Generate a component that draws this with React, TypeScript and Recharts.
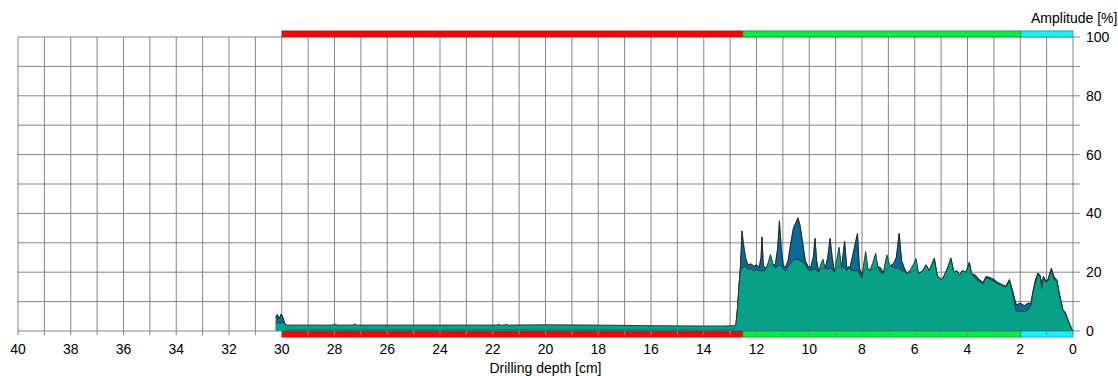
import React from "react";
import {
  ComposedChart,
  Area,
  Line,
  XAxis,
  YAxis,
  CartesianGrid,
  ReferenceArea,
} from "recharts";

// drilling depth [cm], shared by both series
const depth = [
  30.23, 30.17, 30.1, 30.02, 29.95, 29.88, 29.8, 28.05, 28.0, 27.9, 27.3, 27.25, 27.15,
  24.0, 21.85, 21.8, 21.7, 21.55, 21.5, 21.4, 20.0, 18.0, 16.0, 14.0, 13.2, 12.85,
  12.78, 12.72, 12.67, 12.61, 12.55, 12.5, 12.42, 12.33, 12.2, 12.1, 12.0, 11.9, 11.83,
  11.79, 11.74, 11.65, 11.55, 11.47, 11.38, 11.28, 11.2, 11.13, 11.06, 10.98, 10.9, 10.8,
  10.7, 10.6, 10.5, 10.43, 10.35, 10.25, 10.15, 10.05, 9.95, 9.85, 9.78, 9.72, 9.65, 9.55,
  9.48, 9.4, 9.3, 9.21, 9.13, 9.05, 8.96, 8.87, 8.78, 8.66, 8.58, 8.5, 8.45, 8.37, 8.25,
  8.17, 8.1, 8.0, 7.95, 7.86, 7.78, 7.7, 7.6, 7.48, 7.4, 7.3, 7.2, 7.06, 6.95, 6.8, 6.7,
  6.59, 6.5, 6.4, 6.3, 6.15, 6.0, 5.95, 5.85, 5.7, 5.57, 5.45, 5.26, 5.15, 5.0, 4.9, 4.75,
  4.63, 4.52, 4.4, 4.3, 4.2, 4.05, 3.93, 3.85, 3.7, 3.55, 3.41, 3.3, 3.15, 3.0, 2.85, 2.7,
  2.55, 2.41, 2.3, 2.2, 2.15, 2.0, 1.85, 1.7, 1.6, 1.52, 1.42, 1.33, 1.25, 1.18, 1.12, 1.03,
  0.95, 0.82, 0.72, 0.61, 0.52, 0.38, 0.3, 0.15, 0.06, 0,
];

// amplitude [%], blue (rear) series
const blueAmp = [
  4.5, 5.6, 4.2, 5.8, 4.5, 2.5, 0.5, 0.5, 0.5, 0.5, 0.5, 0.5, 0.5,
  0.5, 0.5, 0.5, 0.5, 0.5, 0.5, 0.5, 0.5, 0.5, 0.5, 0.5, 0.5, 0.5,
  2.0, 7.5, 14.5, 22, 34, 30, 25, 22.5, 22.8, 22, 22.5, 21.6, 25,
  32, 22, 21.5, 22, 22.5, 22, 23, 28, 37.5, 28, 22, 21.8, 24,
  30, 35, 37, 38.5, 36, 30, 24, 22, 21.5, 25, 31.5, 24, 20.5, 21,
  21.5, 21, 25, 31.5, 25, 20.5, 21, 22, 21, 30.5, 22, 21, 22, 25, 30,
  33.2, 21.5, 19, 20, 21, 21, 20.5, 21, 21, 22, 21.5, 20, 21, 22, 23, 25,
  33.2, 24, 21.5, 19.5, 20, 20.5, 21, 19.5, 20.5, 22.5, 20.5, 24.7, 19, 17.3, 18.5, 21.5,
  24.7, 20, 20.5, 19, 20.5, 20, 23.3, 19.5, 19, 17.5, 16.5, 18.5, 18.2, 17.5, 16.5, 15.8,
  15.2, 17.5, 14, 10.5, 8.8, 9.5, 8.6, 9.5, 9.2, 13.4, 17.5, 19.7, 19, 16, 18.5, 17,
  17.5, 21.3, 18.5, 17.3, 12.9, 7.1, 6.5, 2.8, 0.9, 0,
];

// amplitude [%], green (front) series
const greenAmp = [
  2.8, 2.8, 2.8, 2.8, 2.8, 2.6, 2.0, 2.0, 2.4, 2.0, 2.0, 2.4, 2.0,
  2.0, 2.0, 2.3, 2.0, 2.0, 2.3, 2.0, 2.1, 2.0, 1.8, 1.7, 1.7, 1.8,
  2.5, 8, 15, 20.7, 21.5, 21.8, 22, 21, 21.3, 20.3, 21, 20.5, 20.5,
  20.5, 20.5, 21, 23.5, 26, 23, 21.5, 22, 22.5, 22, 21, 20.5, 22,
  23, 24, 24.5, 24.3, 24, 23.5, 22.5, 21, 20.5, 21, 21, 20.8, 20, 23,
  24.4, 21.5, 21, 21.5, 21, 20, 24, 28.5, 22, 21.5, 20.5, 22, 21, 20.5, 20.5,
  20.5, 19.5, 18, 22, 27, 21.5, 20.5, 23, 26.4, 22, 20, 19.5, 25.9, 22.5, 21.5, 21.5,
  21.5, 20.5, 20.5, 19.5, 21, 23.5, 24.6, 19.5, 20.5, 22.5, 20.5, 24.7, 19, 17.3, 18.5, 21.5,
  24.7, 20, 20.5, 19, 20.5, 20, 23.3, 19.5, 18, 16.8, 16, 18.1, 17.5, 17, 16, 15.6,
  14.8, 17, 13, 8.5, 6.6, 6.8, 6.5, 7.2, 8.5, 13, 16.5, 19.5, 18.5, 14.5, 18.5, 16.5,
  17, 21, 17.5, 17, 12.5, 7, 6, 2.8, 0.9, 0,
];

// section markers along the depth axis [cm]
const bandEdges = [30, 12.52, 1.98, 0];
const bandColors = ["#ff0000", "#00ee40", "#16f0ff"];

const xTicks = [
  0, 1, 2, 3, 4, 5, 6, 7, 8, 9, 10, 11, 12, 13, 14, 15, 16, 17, 18, 19, 20,
  21, 22, 23, 24, 25, 26, 27, 28, 29, 30, 31, 32, 33, 34, 35, 36, 37, 38, 39, 40,
];
const yTicks = [0, 10, 20, 30, 40, 50, 60, 70, 80, 90, 100];

const data = depth.map((d, i) => ({ d, blue: blueAmp[i], green: greenAmp[i] }));

const FONT = "'Liberation Sans', Arial, sans-serif";
const tickStyle = { fontSize: 14, fill: "#000", fontFamily: FONT };

export default function App() {
  return (
    <div style={{ position: "absolute", left: 0, top: 0, width: 1118, height: 376, background: "#fff" }}>
      <div
        style={{
          position: "absolute",
          left: 1031,
          top: 10,
          fontSize: 14,
          fontFamily: FONT,
          color: "#000",
          whiteSpace: "nowrap",
        }}
      >
        Amplitude [%]
      </div>
      <ComposedChart
        width={1118}
        height={376}
        data={data}
        margin={{ top: 37, right: 0, left: 18, bottom: 0 }}
      >
        <CartesianGrid stroke="#858585" strokeWidth={1} />
        <XAxis
          type="number"
          dataKey="d"
          domain={[0, 40]}
          reversed
          ticks={xTicks}
          interval={0}
          tickFormatter={(v: number) => (v % 2 === 0 ? String(v) : "")}
          tick={tickStyle}
          tickSize={4}
          tickMargin={9}
          axisLine={false}
          tickLine={{ stroke: "#858585" }}
          height={45}
          allowDataOverflow
          label={{
            value: "Drilling depth [cm]",
            position: "insideBottom",
            offset: 3,
            style: { fontSize: 14, fill: "#000", fontFamily: FONT },
          }}
        />
        <YAxis
          orientation="right"
          domain={[0, 100]}
          ticks={yTicks}
          interval={0}
          tickFormatter={(v: number) => (v % 20 === 0 ? String(v) : "")}
          tick={tickStyle}
          tickSize={7}
          tickMargin={6}
          axisLine={false}
          tickLine={{ stroke: "#858585" }}
          width={45}
          allowDataOverflow
        />
        <Area
          type="linear"
          dataKey="blue"
          stroke="#14242e"
          strokeWidth={1}
          fill="#0c6895"
          fillOpacity={1}
          isAnimationActive={false}
          dot={false}
          activeDot={false}
        />
        <Area
          type="linear"
          dataKey="green"
          stroke="#1e4238"
          strokeWidth={1}
          fill="#08a087"
          fillOpacity={1}
          isAnimationActive={false}
          dot={false}
          activeDot={false}
        />
        <Line
          type="linear"
          dataKey="blue"
          stroke="#1c3a3a"
          strokeWidth={0.8}
          strokeOpacity={0.5}
          dot={false}
          activeDot={false}
          isAnimationActive={false}
        />
        {bandColors.map((c, i) => (
          <ReferenceArea
            key={`top-${i}`}
            x1={bandEdges[i]}
            x2={bandEdges[i + 1]}
            y1={100}
            y2={102.1}
            fill={c}
            fillOpacity={1}
            stroke="#444"
            strokeWidth={0.5}
            ifOverflow="visible"
          />
        ))}
        {bandColors.map((c, i) => (
          <ReferenceArea
            key={`bot-${i}`}
            x1={bandEdges[i]}
            x2={bandEdges[i + 1]}
            y1={-2.1}
            y2={0}
            fill={c}
            fillOpacity={1}
            stroke="#444"
            strokeWidth={0.5}
            ifOverflow="visible"
          />
        ))}
      </ComposedChart>
    </div>
  );
}
